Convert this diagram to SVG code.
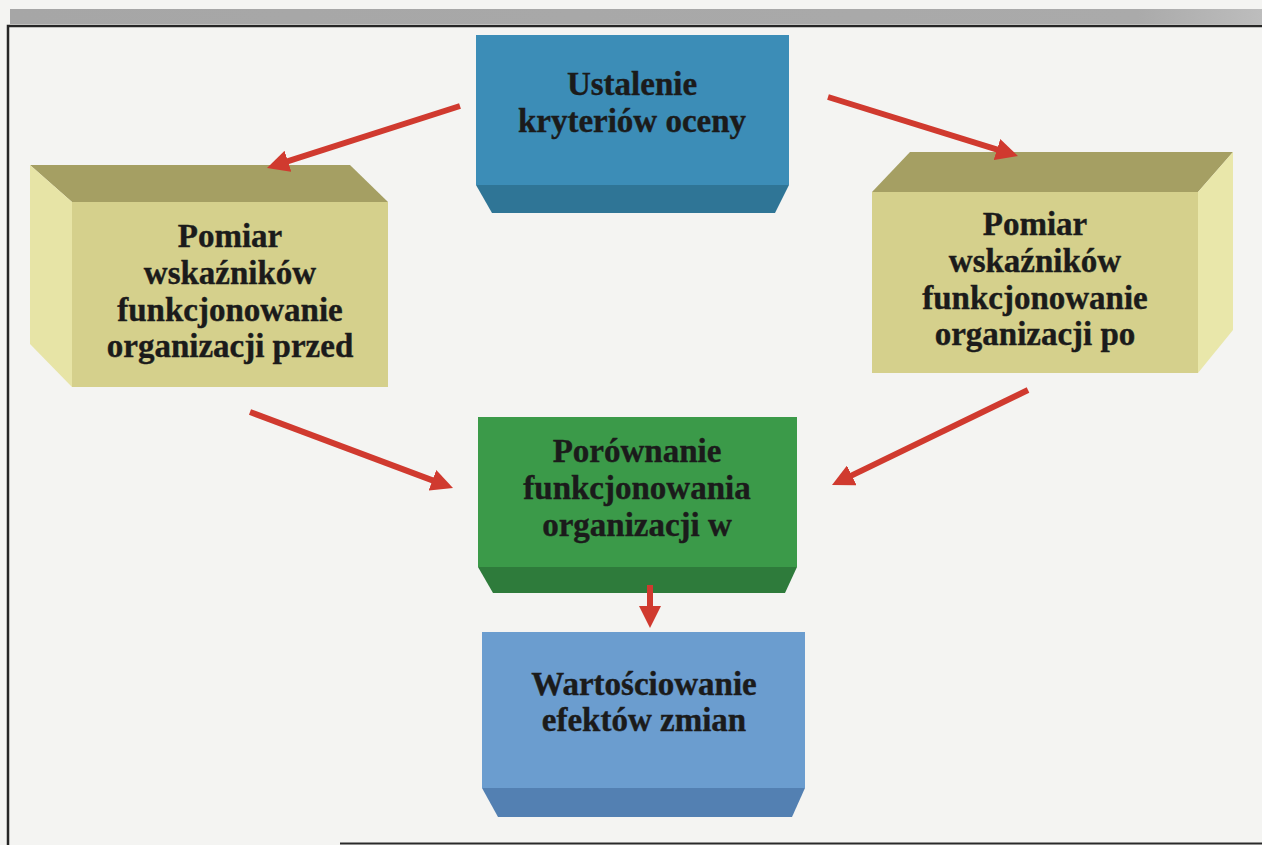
<svg xmlns="http://www.w3.org/2000/svg" width="1262" height="845" viewBox="0 0 1262 845">
  <defs>
    <style>
      .lbl { font-family: "Liberation Serif", "Times New Roman", serif; font-weight: bold; font-size: 33px; fill: #1b1b1b; text-anchor: middle; stroke: #1b1b1b; stroke-width: 0.4; }
      .arrow { stroke: #d03a2f; stroke-width: 6; fill: none; marker-end: url(#head); }
      .frame { stroke: #262626; stroke-width: 2.5; fill: none; }
    </style>
    <marker id="head" markerUnits="userSpaceOnUse" markerWidth="22" markerHeight="22" refX="8" refY="11" orient="auto">
      <path d="M0,0 L22,11 L0,22 z" fill="#d03a2f"/>
    </marker>
    <linearGradient id="band" x1="0" y1="0" x2="1" y2="0">
      <stop offset="0" stop-color="#a6a6a6"/>
      <stop offset="0.9" stop-color="#aaaaaa"/>
      <stop offset="1" stop-color="#bdbdbd"/>
    </linearGradient>
  </defs>

  <!-- page -->
  <rect x="0" y="0" width="1262" height="845" fill="#f4f4f2"/>
  <rect x="10" y="9" width="1252" height="15" fill="url(#band)"/>
  <path class="frame" d="M8,845 V26 H1262"/>
  <line x1="340" y1="843.5" x2="1262" y2="843.5" stroke="#2a2a2a" stroke-width="2"/>

  <!-- top: Ustalenie kryteriów oceny -->
  <g id="node-kryteria">
    <polygon points="476,185 789,185 775,213 492,213" fill="#2f7596"/>
    <rect x="476" y="35" width="313" height="150" fill="#3c8db7"/>
    <text class="lbl" x="632" y="95">Ustalenie</text>
    <text class="lbl" x="632" y="132">kryteriów oceny</text>
  </g>

  <!-- left: Pomiar ... przed -->
  <g id="node-pomiar-przed">
    <polygon points="30,165 350,165 388,202 72,202" fill="#a59f63"/>
    <polygon points="30,165 72,202 72,387 30,344" fill="#e7e4a6"/>
    <rect x="72" y="202" width="316" height="185" fill="#d5d08c"/>
    <text class="lbl" x="230" y="247">Pomiar</text>
    <text class="lbl" x="230" y="284">wskaźników</text>
    <text class="lbl" x="230" y="321">funkcjonowanie</text>
    <text class="lbl" x="230" y="357">organizacji przed</text>
  </g>

  <!-- right: Pomiar ... po -->
  <g id="node-pomiar-po">
    <polygon points="910,152 1233,152 1198,192 872,192" fill="#a59f63"/>
    <polygon points="1233,152 1233,330 1198,373 1198,192" fill="#e9e7aa"/>
    <rect x="872" y="192" width="326" height="181" fill="#d5d08c"/>
    <text class="lbl" x="1035" y="235">Pomiar</text>
    <text class="lbl" x="1035" y="272">wskaźników</text>
    <text class="lbl" x="1035" y="309">funkcjonowanie</text>
    <text class="lbl" x="1035" y="345">organizacji po</text>
  </g>

  <!-- middle: Porównanie -->
  <g id="node-porownanie">
    <polygon points="478,567 797,567 785,593 493,593" fill="#2e7b3b"/>
    <rect x="478" y="417" width="319" height="150" fill="#3b9a49"/>
    <text class="lbl" x="637" y="462">Porównanie</text>
    <text class="lbl" x="637" y="499">funkcjonowania</text>
    <text class="lbl" x="637" y="536">organizacji w</text>
  </g>

  <!-- bottom: Wartościowanie -->
  <g id="node-wartosciowanie">
    <polygon points="482,788 805,788 792,817 498,817" fill="#5380b2"/>
    <rect x="482" y="632" width="323" height="156" fill="#6b9dcf"/>
    <text class="lbl" x="644" y="695">Wartościowanie</text>
    <text class="lbl" x="644" y="731">efektów zmian</text>
  </g>

  <!-- connectors -->
  <g id="connectors">
    <line class="arrow" x1="460" y1="106" x2="280.3" y2="163.7"/>
    <line class="arrow" x1="828" y1="97" x2="1004.6" y2="151.9"/>
    <line class="arrow" x1="250" y1="412" x2="439.9" y2="483.1"/>
    <line class="arrow" x1="1028" y1="390" x2="844.6" y2="478.9"/>
    <line class="arrow" x1="650" y1="585" x2="650" y2="614"/>
  </g>
</svg>
